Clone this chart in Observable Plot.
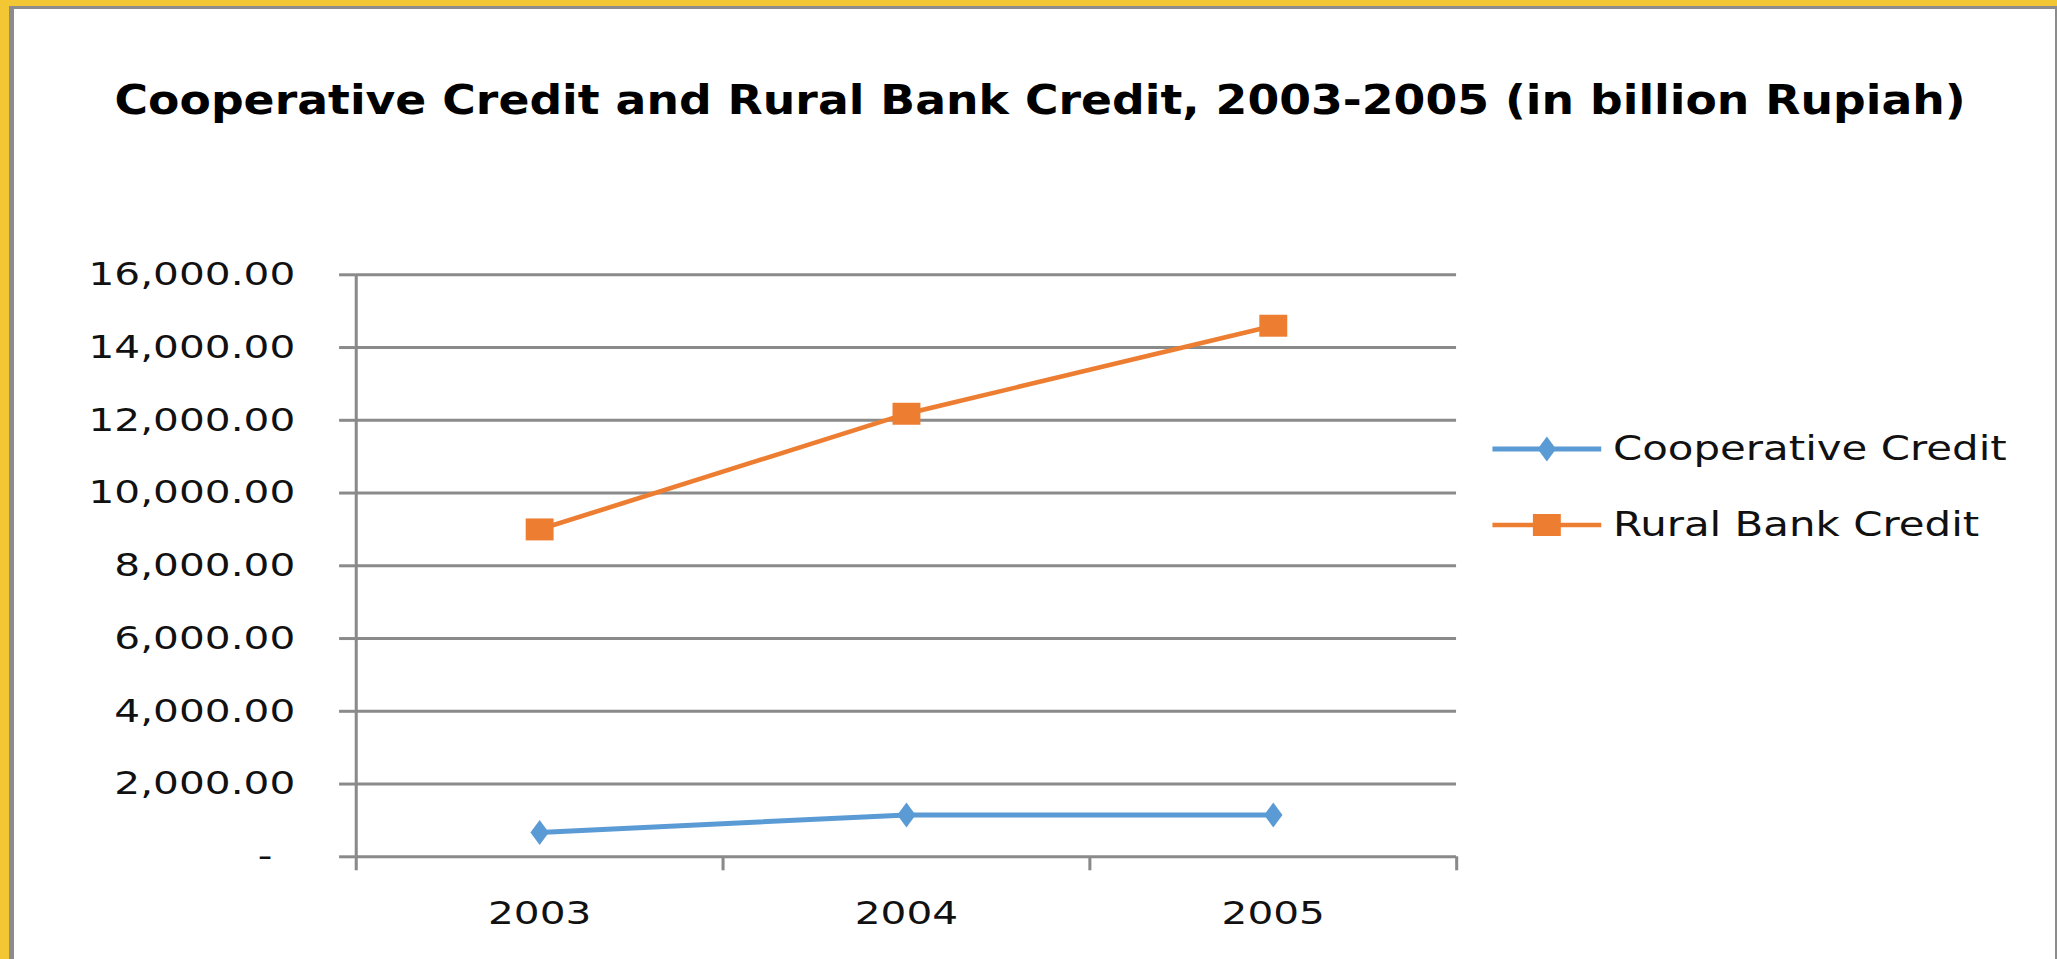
<!DOCTYPE html>
<html>
<head>
<meta charset="utf-8">
<script src="https://cdn.jsdelivr.net/npm/d3@7"></script>
<script src="https://cdn.jsdelivr.net/npm/@observablehq/plot@0.6"></script>
<style>
  html, body { margin: 0; padding: 0; background: #ffffff; overflow: hidden; }
  #page { position: absolute; left: 0; top: 0; width: 2057px; height: 959px; background: #F3C733; overflow: hidden; }
  #sheet { position: absolute; left: 9px; top: 6px; width: 2041px; height: 980px; background: #ffffff;
           border-left: 5px solid #8c8c8c; border-top: 3px solid #8c8c8c; border-right: 2px solid #8c8c8c; }
  #content { position: absolute; left: 0; top: 0; width: 1620px; height: 959px;
             transform: scaleX(1.27); transform-origin: 0 0; font-family: "DejaVu Sans", sans-serif; }
  #title { position: absolute; left: 0; top: 83px; width: 1638px; text-align: center;
           font-family: "DejaVu Sans", sans-serif; font-weight: bold; font-size: 36px; line-height: 36px; color: #000; white-space: nowrap;
           transform: scaleY(1.12); transform-origin: 50% 50%; }
  #chart { position: absolute; left: 0; top: 200px; }
  .legend-row { position: absolute; left: 1175px; height: 40px; display: flex; align-items: center; white-space: nowrap; }
  .legend-row span { font-family: "DejaVu Sans", sans-serif; font-size: 33px; line-height: 40px; color: #111; margin-left: 9px; }
</style>
</head>
<body>
<div id="page"><div id="sheet"></div></div>
<div id="content">
  <div id="title">Cooperative Credit and Rural Bank Credit, 2003-2005 (in billion Rupiah)</div>
  <div id="chart"></div>
  <div id="legend"></div>
</div>
<script>
// ---- data ----
const years = [2003, 2004, 2005];
const seriesNames = ["Cooperative Credit", "Rural Bank Credit"];
const cooperativeCredit = [670, 1150, 1150];
const ruralBankCredit = [9000, 12180, 14600];
const seriesColors = ["#5B9BD5", "#ED7D31"];
const yTicks = [0, 2000, 4000, 6000, 8000, 10000, 12000, 14000, 16000];
const categoryBoundaries = [2002.5, 2003.5, 2004.5, 2005.5];

const gray = "#8a8a8a";
const coopRows = years.map((y, i) => ({year: y, value: cooperativeCredit[i], series: seriesNames[0]}));
const ruralRows = years.map((y, i) => ({year: y, value: ruralBankCredit[i], series: seriesNames[1]}));

const chart = Plot.plot({
  width: 1620,
  height: 759,
  marginTop: 74.3,
  marginBottom: 102.7,
  marginLeft: 280,
  marginRight: 473.5,
  x: {domain: [2002.5, 2005.5]},
  y: {domain: [0, 16000]},
  color: {domain: seriesNames, range: seriesColors},
  style: {fontFamily: "DejaVu Sans, sans-serif", fontSize: "32px", color: "#111", background: "transparent", overflow: "visible"},
  marks: [
    Plot.gridY(yTicks, {stroke: gray, strokeWidth: 3, strokeOpacity: 1}),
    Plot.axisY(yTicks.filter(d => d !== 0), {tickSize: 13, tickPadding: 35, stroke: gray, strokeWidth: 3, tickFormat: d3.format(",.2f"), label: null, fontSize: 32}),
    Plot.axisY([0], {tickSize: 13, tickPadding: 53, stroke: gray, strokeWidth: 3, tickFormat: () => "-", label: null, fontSize: 32}),
    Plot.ruleX([categoryBoundaries[0]], {y1: 0, y2: 16000, stroke: gray, strokeWidth: 2.4}),
    Plot.axisX(categoryBoundaries, {tickSize: 14, stroke: gray, strokeWidth: 2.4, tickFormat: () => "", label: null}),
    Plot.axisX(years, {tickSize: 0, tickPadding: 44, tickFormat: d => String(d), label: null, fontSize: 32}),
    Plot.line(coopRows, {x: "year", y: "value", stroke: seriesColors[0], strokeWidth: 5}),
    Plot.line(ruralRows, {x: "year", y: "value", stroke: seriesColors[1], strokeWidth: 4.5}),
    Plot.dot(coopRows, {x: "year", y: "value", fill: seriesColors[0], symbol: d3.symbolDiamond, r: 7.6}),
    Plot.dot(ruralRows, {x: "year", y: "value", fill: seriesColors[1], symbol: "square", r: 12.4})
  ]
});
document.getElementById("chart").appendChild(chart);

// ---- legend ----
const legend = d3.select("#legend");
const legendTops = [449, 525];
const legendSymbols = [d3.symbolDiamond, d3.symbolSquare];
const legendSizes = [Math.PI * 7.6 * 7.6, Math.PI * 12.4 * 12.4];
const legendWidths = [5, 4.5];
seriesNames.forEach((name, i) => {
  const row = legend.append("div").attr("class", "legend-row").style("top", (legendTops[i] - 20) + "px");
  const svg = row.append("svg").attr("width", 86).attr("height", 40);
  svg.append("line").attr("x1", 0).attr("x2", 86).attr("y1", 20).attr("y2", 20)
     .attr("stroke", seriesColors[i]).attr("stroke-width", legendWidths[i]);
  svg.append("path").attr("transform", "translate(43,20)")
     .attr("d", d3.symbol(legendSymbols[i], legendSizes[i])())
     .attr("fill", seriesColors[i]);
  row.append("span").text(name);
});
</script>
</body>
</html>
